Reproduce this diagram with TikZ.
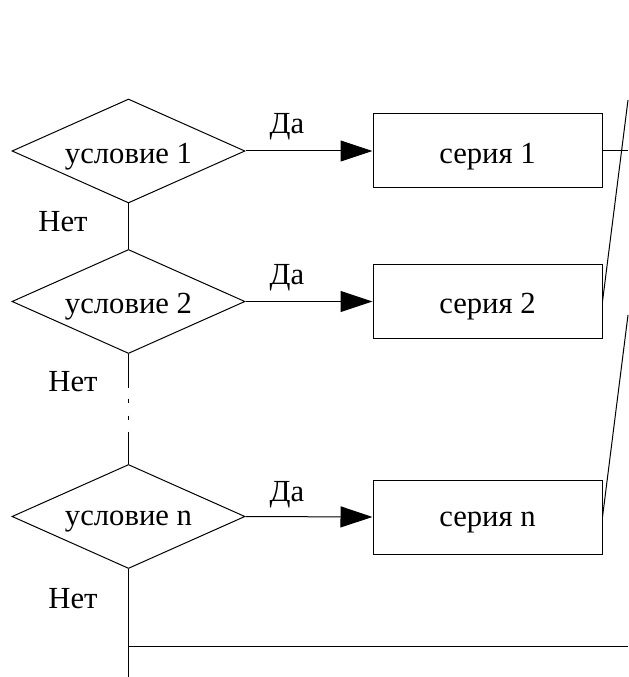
\documentclass[tikz,border=0pt]{standalone}
\usepackage{fontspec}
\setmainfont{Liberation Serif}
\usetikzlibrary{shapes.geometric,arrows.meta}
% shift a label down while keeping its box size
\newcommand{\lowtext}[1]{\raisebox{-4pt}[\height][\depth]{#1}}
\tikzset{
  cond/.style={shape=diamond, draw, line width=0.75pt, inner sep=0pt,
    aspect=2.24, minimum width=174.75pt, minimum height=78pt},
  series/.style={draw, line width=0.75pt, inner sep=0pt,
    minimum width=171.75pt, minimum height=55.5pt},
  lbl/.style={inner sep=0pt},
  flow/.style={line width=0.75pt},
  yes/.style={flow, -{Triangle[length=24pt,width=15.75pt]}},
}
\begin{document}
\begin{tikzpicture}[x=0.75pt,y=-0.75pt,font=\fontsize{23}{28}\selectfont]
\useasboundingbox (0,0) rectangle (628,677);

% conditions
\node[cond] (c1) at (128.5,151) {\lowtext{условие 1}};
\node[cond] (c2) at (128.5,301.5) {\lowtext{условие 2}};
\node[cond] (cn) at (128.5,516.5) {\lowtext{условие n}};

% series blocks
\node[series] (s1) at (487.5,151) {\lowtext{серия 1}};
\node[series] (s2) at (487.5,301.5) {\lowtext{серия 2}};
\node[series] (sn) at (487.5,517) {\lowtext{серия n}};

% branch labels
\node[lbl] (y1) at (287,127) {Да};
\node[lbl] (y2) at (287,278) {Да};
\node[lbl] (yn) at (287,495) {Да};
\node[lbl] (n1) at (63,222) {Нет};
\node[lbl] (n2) at (73,382) {Нет};
\node[lbl] (nn) at (73,599) {Нет};

% "yes" branches
\draw[yes] (c1.east) -- (s1.west);
\draw[yes] (c2.east) -- (s2.west);
\draw[yes] (cn.east) -- (sn.west);

% "no" chain
\coordinate (gapTop) at (128.5,388);
\coordinate (gapBot) at (128.5,435);
\coordinate (exitBot) at (128.5,677);
\coordinate (joinL) at (128.5,646);
\coordinate (joinR) at (628,646);
\draw[flow] (c1.south) -- (c2.north);
\draw[flow] (c2.south) -- (gapTop);
\draw[flow, dash pattern=on 0pt off 8pt on 3pt off 9.75pt on 3pt off 9pt on 3pt off 10pt] (gapTop) -- (gapBot);
\draw[flow] (gapBot) -- (cn.north);
\draw[flow] (cn.south) -- (exitBot);
\draw[flow] (joinL) -- (joinR);

% outputs of the series
\coordinate (out1) at (628,151);
\coordinate (top2) at (628,100);
\coordinate (topn) at (628,315);
\draw[flow] (s1.east) -- (out1);
\draw[flow] (top2) -- (s2.east);
\draw[flow] (topn) -- (sn.east);
\end{tikzpicture}
\end{document}
